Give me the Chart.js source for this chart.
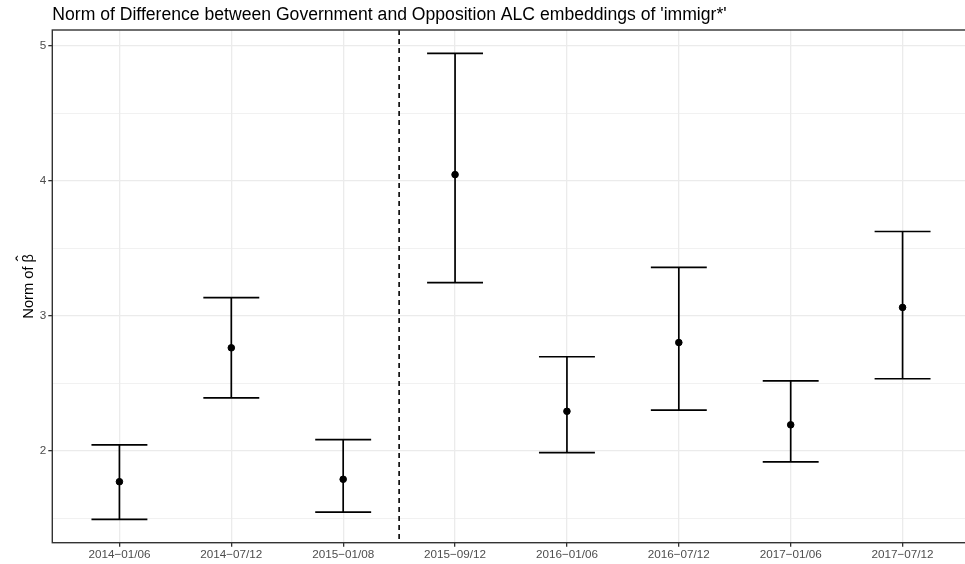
<!DOCTYPE html>
<html>
<head>
<meta charset="utf-8">
<script src="https://cdn.jsdelivr.net/npm/chart.js@4/dist/chart.umd.min.js"></script>
<style>
  html, body { margin: 0; padding: 0; background: #fff; overflow: hidden; }
  #wrap { position: relative; width: 974px; height: 564px; }
</style>
</head>
<body>
<div id="wrap"><canvas id="c"></canvas></div>
<script>
// Periods compared
const periods = ['2014-01/06', '2014-07/12', '2015-01/08', '2015-09/12',
                 '2016-01/06', '2016-07/12', '2017-01/06', '2017-07/12'];
// Norm of the difference (point estimate) and its interval bounds
const normEstimate = [1.772, 2.763, 1.790, 4.045, 2.293, 2.802, 2.193, 3.062];
const normLower    = [1.493, 2.393, 1.547, 3.245, 1.987, 2.302, 1.919, 2.534];
const normUpper    = [2.045, 3.135, 2.083, 4.943, 2.697, 3.358, 2.518, 3.624];
// Break between periods 3 and 4 (category units)
const breakAt = 2.5;
// Tick values on the vertical axis
const yMajor = [2, 3, 4, 5];
const yMinor = [1.5, 2.5, 3.5, 4.5];

const titleText = "Norm of Difference between Government and Opposition ALC embeddings of 'immigr*'";
const yTitleText = 'Norm of \u03B2';
const FONT = '"Liberation Sans", Arial, Helvetica, sans-serif';

// y range with 5% padding around the interval extent
const yLo = Math.min(...normLower), yHi = Math.max(...normUpper);
const yPad = (yHi - yLo) * 0.05;

const points = normEstimate.map((v, i) => ({ x: i, y: v }));

const errorBars = {
  id: 'errorBars',
  afterDatasetsDraw(chart) {
    const { ctx, chartArea: a, scales: { x, y } } = chart;
    ctx.save();
    ctx.beginPath();
    ctx.rect(a.left, a.top, a.right - a.left, a.bottom - a.top);
    ctx.clip();
    // dashed break line
    const bx = x.getPixelForValue(breakAt);
    ctx.strokeStyle = '#000';
    ctx.lineWidth = 1.6;
    ctx.setLineDash([5, 4]);
    ctx.beginPath();
    ctx.moveTo(bx, a.top);
    ctx.lineTo(bx, a.bottom);
    ctx.stroke();
    ctx.setLineDash([]);
    // intervals
    ctx.lineWidth = 1.7;
    ctx.lineCap = 'butt';
    periods.forEach((p, i) => {
      const cx = x.getPixelForValue(i);
      const l = x.getPixelForValue(i - 0.25), r = x.getPixelForValue(i + 0.25);
      const yl = y.getPixelForValue(normLower[i]), yu = y.getPixelForValue(normUpper[i]);
      ctx.beginPath();
      ctx.moveTo(cx, yl); ctx.lineTo(cx, yu);
      ctx.moveTo(l, yl); ctx.lineTo(r, yl);
      ctx.moveTo(l, yu); ctx.lineTo(r, yu);
      ctx.stroke();
    });
    ctx.restore();
  },
  afterDraw(chart) {
    const { ctx, chartArea: a } = chart;
    ctx.save();
    // panel border
    ctx.strokeStyle = '#333333';
    ctx.lineWidth = 1.4;
    ctx.strokeRect(a.left, a.top, a.right - a.left, a.bottom - a.top);
    // title aligned with the panel
    ctx.fillStyle = '#000';
    ctx.font = '17.6px ' + FONT;
    ctx.textBaseline = 'alphabetic';
    ctx.textAlign = 'left';
    ctx.fillText(titleText, a.left, 20);
    // vertical axis title with a hat over beta
    ctx.font = '14.7px ' + FONT;
    const w = ctx.measureText(yTitleText).width;
    const wb = ctx.measureText('\u03B2').width;
    ctx.translate(32.5, (a.top + a.bottom) / 2);
    ctx.rotate(-Math.PI / 2);
    ctx.textAlign = 'center';
    ctx.fillText(yTitleText, 0, 0);
    ctx.font = '18px ' + FONT;
    ctx.fillText('\u02C6', w / 2 - wb / 2, -4);
    ctx.restore();
  }
};

new Chart(document.getElementById('c'), {
  type: 'scatter',
  data: {
    datasets: [{
      data: points,
      backgroundColor: '#000',
      borderColor: '#000',
      pointRadius: 3.3,
      pointHoverRadius: 3.3,
      order: 0
    }]
  },
  options: {
    responsive: true,
    maintainAspectRatio: false,
    animation: false,
    events: [],
    layout: { padding: { left: 0, right: 0, top: 30, bottom: 0 } },
    plugins: { legend: { display: false }, tooltip: { enabled: false }, title: { display: false } },
    scales: {
      x: {
        type: 'linear',
        min: -0.6,
        max: periods.length - 1 + 0.6,
        afterBuildTicks(s) { s.ticks = periods.map((p, i) => ({ value: i })); },
        afterFit(s) { s.height = 21.3; },
        grid: { color: '#EBEBEB', lineWidth: 1.3, tickLength: 4, tickColor: '#333333', drawOnChartArea: true },
        border: { display: false },
        ticks: {
          autoSkip: false,
          maxRotation: 0,
          padding: 1,
          color: '#4D4D4D',
          font: { family: FONT, size: 11.7 },
          callback: (v) => (periods[v] ?? '').replace('-', '\u2212')
        }
      },
      y: {
        type: 'linear',
        min: yLo - yPad,
        max: yHi + yPad,
        afterBuildTicks(s) {
          s.ticks = [...yMinor, ...yMajor].sort((a, b) => a - b).map(v => ({ value: v }));
        },
        afterFit(s) { s.width = 52.3; },
        grid: {
          color: '#EBEBEB',
          lineWidth: (c) => (yMajor.includes(c.tick?.value) ? 1.3 : 0.7),
          tickLength: 4,
          tickColor: (c) => (yMajor.includes(c.tick?.value) ? '#333333' : 'rgba(0,0,0,0)')
        },
        border: { display: false },
        title: { display: false },
        ticks: {
          autoSkip: false,
          padding: 2,
          color: '#4D4D4D',
          font: { family: FONT, size: 11.7 },
          callback: (v) => (yMajor.includes(v) ? String(v) : '')
        }
      }
    }
  },
  plugins: [errorBars]
});
</script>
</body>
</html>
